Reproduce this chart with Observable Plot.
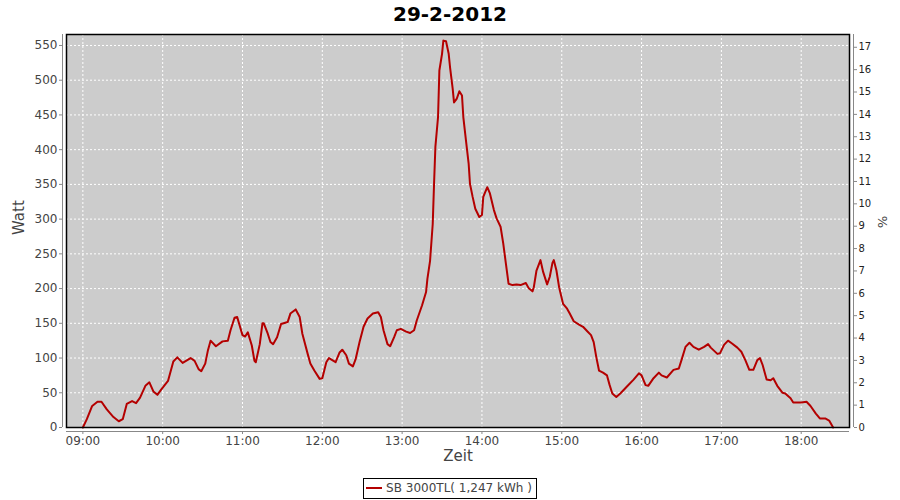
<!DOCTYPE html>
<html><head><meta charset="utf-8">
<script src="https://cdn.jsdelivr.net/npm/d3@7"></script>
<script src="https://cdn.jsdelivr.net/npm/@observablehq/plot@0.6"></script>
<style>
body{margin:0;background:#fff;width:900px;height:500px;overflow:hidden;font-family:"DejaVu Sans",sans-serif}
#title{height:30px;line-height:28px;text-align:center;font-weight:bold;font-size:20px;color:#000}
#chart svg{display:block}
#legendwrap{text-align:center;margin-top:5px;height:22px}
#legend{display:inline-block;border:1px solid #000;height:19px;line-height:19px;padding:0 4px 0 2px;font-size:12px;color:#444;white-space:nowrap}
#legend .sw{display:inline-block;width:16px;height:2px;background:#b40000;vertical-align:middle;margin-right:4px;position:relative;top:-1px}
</style></head><body>
<div id="title">29-2-2012</div>
<div id="chart"></div>
<div id="legendwrap"><div id="legend"><span class="sw"></span>SB 3000TL( 1,247 kWh )</div></div>
<script>
const times = ["09:00","09:03","09:07","09:11","09:14","09:18","09:23","09:27","09:30","09:33","09:37","09:40","09:43","09:47","09:50","09:53","09:56","09:59",
"10:04","10:08","10:11","10:15","10:21","10:24","10:27","10:29","10:32","10:34","10:36","10:40","10:45","10:49","10:51","10:54","10:56",
"11:00","11:02","11:04","11:07","11:09","11:10","11:13","11:15","11:16","11:19","11:21","11:23","11:26","11:29","11:34","11:36","11:40","11:43","11:45","11:49","11:51","11:54","11:58",
"12:00","12:03","12:05","12:10","12:13","12:15","12:18","12:20","12:23","12:25","12:28","12:31","12:34","12:38","12:42","12:44","12:46","12:49","12:51","12:54","12:56","12:59",
"13:03","13:06","13:09","13:11","13:15","13:18","13:19","13:21","13:23","13:24","13:25","13:27","13:28","13:30","13:31","13:33","13:35","13:36","13:38","13:39","13:41","13:43","13:45","13:46","13:48","13:50","13:51","13:53","13:55","13:58",
"14:00","14:01","14:04","14:06","14:09","14:11","14:14","14:16","14:18","14:20","14:23","14:26","14:29","14:33","14:35","14:38","14:39","14:41","14:44","14:46","14:49","14:51","14:53","14:54","14:56","14:58",
"15:01","15:04","15:06","15:09","15:13","15:16","15:19","15:22","15:24","15:26","15:28","15:31","15:34","15:36","15:38","15:41","15:44","15:49","15:54","15:58",
"16:00","16:03","16:05","16:09","16:13","16:15","16:19","16:24","16:28","16:30","16:33","16:36","16:39","16:43","16:47","16:50","16:52","16:57","16:59",
"17:02","17:05","17:08","17:12","17:15","17:18","17:21","17:24","17:27","17:29","17:31","17:34","17:37","17:39","17:42","17:46","17:48","17:52","17:54",
"18:00","18:04","18:07","18:11","18:14","18:18","18:21","18:24"];
const watts = [0,12,31,37,37,26,15,9,12,34,38,35,43,60,65,52,47,55,
67,95,101,93,100,96,84,81,92,111,125,117,124,125,140,158,159,
133,131,137,118,96,94,120,150,150,135,123,120,130,149,152,164,170,159,135,106,92,82,70,
71,94,100,94,108,112,104,92,88,98,123,145,157,164,166,159,140,120,117,130,140,142,
138,136,140,154,176,195,214,240,293,351,404,447,514,538,557,556,538,519,488,468,473,484,478,447,413,380,351,332,315,303,
306,332,346,337,313,301,289,265,236,207,205,206,205,208,201,196,202,226,241,224,206,217,237,241,226,202,
178,171,164,153,148,145,139,133,123,101,82,79,75,61,49,44,49,59,69,78,
75,61,60,71,79,75,72,83,85,97,116,122,116,112,116,120,115,106,107,
119,125,121,115,109,97,83,83,97,100,90,69,68,71,60,50,49,42,36,
36,37,31,20,13,13,10,0];
const hourTicks = [9,10,11,12,13,14,15,16,17,18];
const wattTicks = [0,50,100,150,200,250,300,350,400,450,500,550];
const pctTicks = [0,1,2,3,4,5,6,7,8,9,10,11,12,13,14,15,16,17];
const wattPerPct = 32.2;

const toMin = s => { const [h,m] = s.split(":").map(Number); return h*60+m; };
const data = times.map((t,i) => ({t: toMin(t), w: watts[i]}));
const xMin = 527.7, xMax = 1116.3;
const xTickVals = hourTicks.map(h => h*60);
const pctVals = pctTicks.map(k => k*wattPerPct);

const chart = Plot.plot({
  width: 900, height: 442,
  marginLeft: 66, marginRight: 51, marginTop: 4, marginBottom: 45,
  style: {fontFamily: "DejaVu Sans, sans-serif", background: "transparent"},
  x: {type: "linear", domain: [xMin, xMax]},
  y: {domain: [0, 565.8]},
  marks: [
    Plot.frame({fill: "#cccccc", stroke: null}),
    Plot.ruleY(wattTicks, {stroke: "#fff", strokeDasharray: "2,2", strokeWidth: 1}),
    Plot.ruleX(xTickVals, {stroke: "#fff", strokeDasharray: "2,2", strokeWidth: 1}),
    Plot.line(data, {x: "t", y: "w", stroke: "#b40000", strokeWidth: 2, strokeLinejoin: "round"}),
    Plot.frame({stroke: "#000", strokeWidth: 1.5}),
    // axis lines
    Plot.ruleX([xMin], {dx: -4, stroke: "#888", strokeWidth: 1}),
    Plot.ruleX([xMax], {dx: 4, stroke: "#888", strokeWidth: 1}),
    Plot.ruleY([0], {dy: 4, stroke: "#888", strokeWidth: 1}),
    Plot.axisY(wattTicks, {anchor: "left", dx: -4, tickSize: 3, tickPadding: 2, stroke: "#888", fill: "#444", fontSize: 12, label: null}),
    Plot.axisY(pctVals, {anchor: "right", dx: 4, tickSize: 3, tickPadding: 2, stroke: "#888", fill: "#222", fontSize: 10, label: null,
      tickFormat: (d, i) => String(pctTicks[i])}),
    Plot.axisX(xTickVals, {anchor: "bottom", dy: 4, tickSize: 3, tickPadding: 2, stroke: "#888", fill: "#444", fontSize: 12, label: null,
      tickFormat: d => String(Math.floor(d/60)).padStart(2, "0") + ":00"}),
    Plot.text(["Watt"], {frameAnchor: "left", dx: -47, dy: 4, rotate: -90, fontSize: 15, fill: "#444"}),
    Plot.text(["Zeit"], {frameAnchor: "bottom", dy: 33, fontSize: 15, fill: "#444"}),
    Plot.text(["%"], {frameAnchor: "right", dx: 33, dy: -3, rotate: 90, fontSize: 13, fill: "#444"})
  ]
});
document.getElementById("chart").appendChild(chart);
</script>
</body></html>
